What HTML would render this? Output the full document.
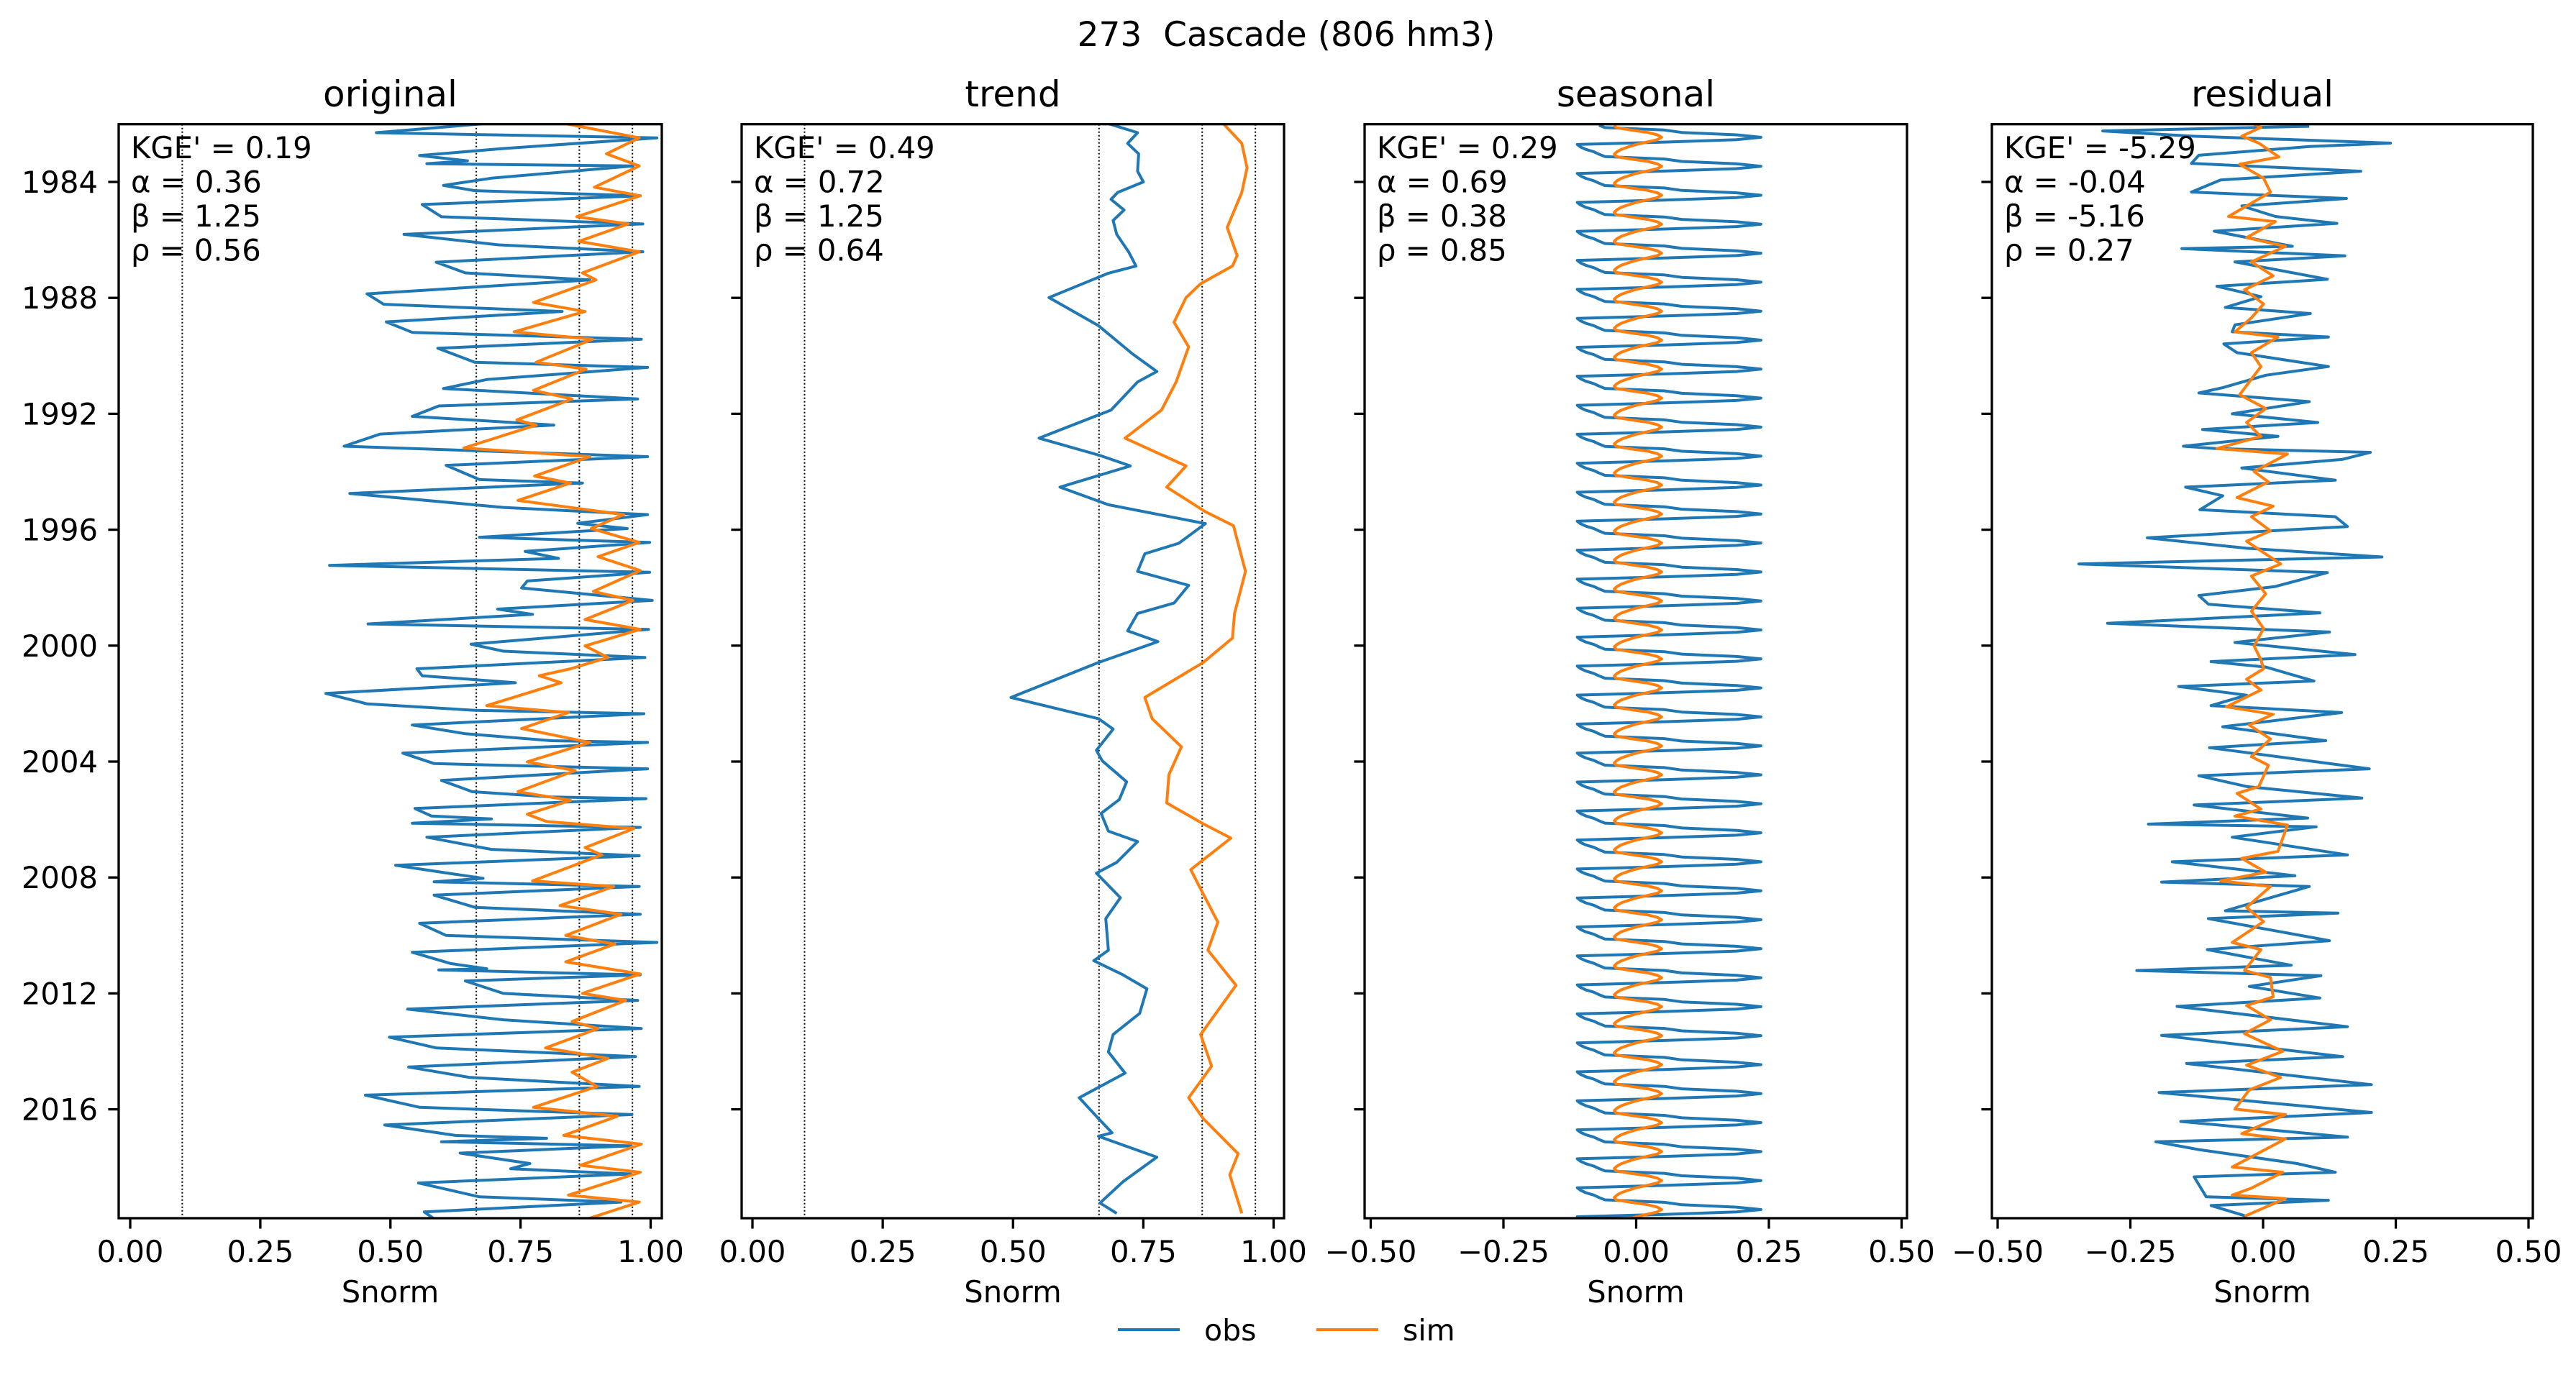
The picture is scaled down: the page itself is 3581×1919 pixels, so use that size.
<!DOCTYPE html>
<html><head><meta charset="utf-8"><title>273 Cascade</title>
<style>
html,body{margin:0;padding:0;background:#fff;}
svg{display:block;font-family:"DejaVu Sans","Liberation Sans",sans-serif;}
</style></head>
<body>
<svg id="fig" width="3581" height="1919" viewBox="0 0 3581 1919" xmlns="http://www.w3.org/2000/svg">
<rect width="3581" height="1919" fill="#fff"/>
<text x="1788" y="64" font-size="47" text-anchor="middle" xml:space="preserve" style="white-space:pre">273  Cascade (806 hm3)</text>
<g id="legend">
<line x1="1554" y1="1849" x2="1640" y2="1849" stroke="#1f77b4" stroke-width="4"/>
<text x="1674" y="1864" font-size="41">obs</text>
<line x1="1830" y1="1849" x2="1916" y2="1849" stroke="#ff7f0e" stroke-width="4"/>
<text x="1950" y="1864" font-size="41">sim</text>
</g>
</svg>
<script>
// ---------- data ----------
const yearTicks = [1984, 1988, 1992, 1996, 2000, 2004, 2008, 2012, 2016];
const panelTitles = ["original", "trend", "seasonal", "residual"];
const statsOriginal = ["KGE' = 0.19", "α = 0.36", "β = 1.25", "ρ = 0.56"];
const statsTrend = ["KGE' = 0.49", "α = 0.72", "β = 1.25", "ρ = 0.64"];
const statsSeasonal = ["KGE' = 0.29", "α = 0.69", "β = 0.38", "ρ = 0.85"];
const statsResidual = ["KGE' = -5.29", "α = -0.04", "β = -5.16", "ρ = 0.27"];
const ticksPos = [0, 0.25, 0.5, 0.75, 1.0];
const ticksPosLabels = ["0.00", "0.25", "0.50", "0.75", "1.00"];
const ticksSym = [-0.5, -0.25, 0, 0.25, 0.5];
const ticksSymLabels = ["\u22120.50", "\u22120.25", "0.00", "0.25", "0.50"];
const refLines = [0.10, 0.665, 0.863, 0.965];

const origObsYear = [1981.96,1982.30,1982.48,1982.85,1983.09,1983.27,1983.37,1983.45,1983.87,1984.12,1984.30,1984.48,1984.78,1985.20,1985.45,1985.81,1986.17,1986.41,1986.77,1987.14,1987.38,1987.86,1988.22,1988.47,1988.83,1989.19,1989.43,1989.74,1990.22,1990.40,1990.82,1991.13,1991.49,1991.73,1992.09,1992.39,1992.70,1993.12,1993.48,1993.78,1994.27,1994.39,1994.75,1995.23,1995.48,1995.78,1995.96,1996.26,1996.44,1996.75,1996.99,1997.23,1997.47,1997.77,1998.01,1998.44,1998.74,1998.92,1999.25,1999.44,1999.95,2000.19,2000.41,2000.80,2001.04,2001.28,2001.65,2002.01,2002.23,2002.35,2002.74,2003.04,2003.28,2003.34,2003.71,2004.07,2004.25,2004.65,2005.04,2005.22,2005.28,2005.62,2005.88,2005.98,2006.13,2006.27,2006.61,2007.03,2007.25,2007.58,2007.82,2008.03,2008.15,2008.31,2008.61,2009.03,2009.27,2009.58,2010.00,2010.24,2010.58,2010.97,2011.15,2011.19,2011.36,2011.57,2012.00,2012.24,2012.54,2012.91,2013.21,2013.51,2013.88,2014.18,2014.54,2014.90,2015.21,2015.51,2015.93,2016.18,2016.54,2016.90,2017.00,2017.12,2017.26,2017.51,2017.87,2018.05,2018.23,2018.54,2019.02,2019.20,2019.54,2019.78];
const origObsVal = [0.70,0.473,1.012,0.713,0.556,0.648,0.570,0.966,0.694,0.602,0.662,0.980,0.561,0.598,0.985,0.526,0.708,0.985,0.588,0.644,0.883,0.455,0.487,0.830,0.492,0.542,0.982,0.591,0.662,0.994,0.685,0.602,0.975,0.593,0.542,0.814,0.480,0.411,0.994,0.607,0.671,0.869,0.422,0.717,0.994,0.860,0.955,0.671,0.998,0.759,0.823,0.383,0.998,0.763,0.752,1.003,0.706,0.773,0.457,0.996,0.655,0.717,0.989,0.551,0.561,0.740,0.376,0.455,0.662,0.987,0.542,0.644,0.809,0.994,0.524,0.584,0.994,0.598,0.657,0.809,0.991,0.547,0.579,0.694,0.542,0.980,0.570,0.694,0.978,0.510,0.598,0.678,0.584,0.978,0.584,0.662,0.980,0.556,0.607,1.012,0.542,0.616,0.685,0.593,0.980,0.644,0.717,0.975,0.533,0.717,0.982,0.498,0.588,0.971,0.535,0.653,0.978,0.452,0.556,0.964,0.489,0.625,0.800,0.598,0.962,0.634,0.768,0.731,0.962,0.554,0.671,0.943,0.565,0.584];
const origSimYear = [1981.96,1982.48,1983.03,1983.45,1984.18,1984.48,1985.20,1985.45,1986.05,1986.41,1987.14,1987.38,1988.16,1988.47,1989.17,1989.43,1990.22,1990.46,1991.19,1991.49,1992.21,1992.39,1993.18,1993.48,1994.15,1994.39,1994.99,1995.48,1995.96,1996.44,1996.93,1997.41,1998.13,1998.44,1999.10,1999.44,2000.01,2000.41,2000.80,2001.04,2001.28,2002.07,2002.31,2002.86,2003.34,2004.01,2004.31,2005.04,2005.34,2005.82,2006.07,2006.31,2006.97,2007.22,2008.12,2008.31,2008.97,2009.27,2010.00,2010.30,2010.91,2011.33,2012.00,2012.24,2012.97,2013.21,2013.88,2014.24,2014.72,2015.21,2015.93,2016.24,2016.90,2017.20,2017.93,2018.17,2018.96,2019.20,2019.78];
const origSimVal = [0.828,0.978,0.915,0.978,0.892,0.980,0.858,0.957,0.862,0.978,0.869,0.895,0.775,0.874,0.738,0.888,0.780,0.876,0.775,0.849,0.743,0.780,0.641,0.883,0.777,0.846,0.745,0.948,0.886,0.978,0.899,0.980,0.890,0.966,0.874,0.980,0.874,0.918,0.846,0.786,0.828,0.685,0.842,0.752,0.883,0.763,0.855,0.745,0.846,0.763,0.800,0.968,0.874,0.906,0.773,0.929,0.826,0.943,0.837,0.931,0.837,0.980,0.869,0.952,0.849,0.899,0.798,0.918,0.849,0.897,0.775,0.936,0.833,0.982,0.865,0.980,0.842,0.978,0.879];

const trendObsYear = [1981.96,1982.30,1982.67,1983.03,1983.63,1984.00,1984.36,1984.60,1984.97,1985.33,1985.81,1986.42,1986.90,1987.15,1987.99,1988.96,1989.93,1990.54,1990.90,1991.87,1992.84,1993.44,1993.80,1994.53,1995.14,1995.79,1996.47,1996.83,1997.44,1997.92,1998.53,1998.89,1999.49,1999.86,2000.58,2001.79,2002.52,2002.88,2003.61,2003.97,2004.70,2005.31,2005.79,2006.40,2006.76,2007.48,2007.85,2008.70,2009.42,2010.51,2010.87,2011.36,2011.84,2012.69,2013.42,2014.02,2014.75,2015.60,2016.32,2016.81,2016.93,2017.65,2018.50,2019.23,2019.59];
const trendObsVal = [0.678,0.739,0.720,0.741,0.739,0.750,0.701,0.688,0.713,0.692,0.699,0.722,0.736,0.683,0.569,0.664,0.729,0.776,0.739,0.688,0.550,0.667,0.725,0.590,0.683,0.869,0.818,0.753,0.739,0.837,0.809,0.739,0.720,0.778,0.664,0.496,0.664,0.692,0.660,0.671,0.718,0.704,0.669,0.683,0.739,0.699,0.660,0.706,0.678,0.683,0.655,0.711,0.757,0.743,0.692,0.683,0.715,0.627,0.664,0.690,0.664,0.776,0.711,0.667,0.699];
const trendSimYear = [1981.96,1982.67,1983.51,1984.36,1985.57,1986.54,1986.90,1987.51,1987.99,1988.84,1989.69,1990.90,1991.87,1992.84,1993.80,1994.53,1995.38,1995.86,1997.44,1998.89,1999.74,2000.58,2001.79,2002.52,2003.49,2004.46,2005.43,2006.15,2006.64,2007.73,2008.57,2009.54,2010.51,2011.72,2013.42,2014.51,2015.60,2016.32,2017.53,2018.26,2019.59];
const trendSimVal = [0.902,0.939,0.949,0.939,0.911,0.930,0.921,0.860,0.832,0.809,0.837,0.813,0.785,0.715,0.832,0.795,0.869,0.923,0.946,0.925,0.921,0.865,0.753,0.767,0.823,0.799,0.795,0.865,0.918,0.841,0.865,0.893,0.874,0.928,0.860,0.881,0.837,0.865,0.932,0.916,0.939];

// seasonal component: monthly values Jan..Dec (repeats every year by construction)
const seasonYears = [1982,1983,1984,1985,1986,1987,1988,1989,1990,1991,1992,1993,1994,1995,1996,1997,1998,1999,2000,2001,2002,2003,2004,2005,2006,2007,2008,2009,2010,2011,2012,2013,2014,2015,2016,2017,2018,2019];
const seasonObsMonthly = [-0.070,-0.059,0.053,0.086,0.189,0.235,0.189,0.053,-0.111,-0.105,-0.095,-0.080];
const seasonSimMonthly = [-0.041,-0.038,-0.010,0.022,0.040,0.048,0.040,0.020,0.000,-0.015,-0.028,-0.036];

const residObsYear = [1982.08,1982.24,1982.42,1982.66,1982.78,1983.08,1983.36,1983.63,1983.93,1984.35,1984.57,1984.83,1985.19,1985.43,1985.70,1986.22,1986.30,1986.55,1986.76,1987.36,1987.60,1987.96,1988.33,1988.54,1988.93,1989.17,1989.35,1989.59,1989.89,1990.37,1990.67,1991.10,1991.28,1991.58,1992.00,1992.30,1992.54,1992.78,1993.12,1993.20,1993.33,1993.57,1993.87,1994.29,1994.53,1994.83,1995.31,1995.55,1995.89,1996.28,1996.64,1996.94,1997.18,1997.48,1997.96,1998.27,1998.57,1998.87,1999.23,1999.53,1999.89,2000.31,2000.55,2000.74,2001.22,2001.41,2001.71,2002.07,2002.31,2002.80,2003.28,2003.52,2004.25,2004.49,2004.86,2005.26,2005.50,2005.95,2006.16,2006.25,2006.61,2007.22,2007.46,2007.94,2008.16,2008.31,2009.15,2009.23,2009.42,2010.18,2010.49,2011.03,2011.21,2011.39,2011.76,2012.16,2012.45,2013.15,2013.45,2014.18,2014.42,2015.15,2015.42,2016.11,2016.42,2016.96,2017.12,2017.39,2017.87,2018.17,2018.33,2019.02,2019.14,2019.32,2019.69];
const residObsVal = [0.087,-0.302,-0.135,0.240,0.087,-0.121,-0.135,0.184,-0.080,-0.135,0.157,-0.040,0.023,0.139,-0.092,0.055,-0.153,0.154,-0.053,0.121,-0.087,-0.004,-0.071,0.089,-0.053,-0.058,0.123,-0.074,-0.049,0.123,0.005,-0.076,-0.121,0.087,-0.058,0.103,-0.114,0.028,-0.150,-0.089,0.202,0.150,-0.040,0.136,-0.146,-0.076,-0.119,0.136,0.159,-0.218,-0.031,0.224,-0.347,0.121,0.023,-0.121,-0.103,0.107,-0.293,0.125,-0.053,0.173,-0.098,0.005,0.096,-0.159,-0.031,-0.098,0.148,-0.076,0.118,-0.101,0.200,-0.121,-0.031,0.186,-0.130,0.084,-0.216,0.100,-0.058,0.159,-0.171,0.060,-0.191,0.087,-0.071,0.141,-0.103,0.125,-0.105,0.053,-0.238,0.109,-0.026,0.107,-0.162,0.159,-0.191,0.150,-0.144,0.204,-0.196,0.204,-0.155,0.159,-0.202,-0.121,0.064,0.136,-0.130,-0.107,0.123,-0.098,-0.031];
const residSimYear = [1981.96,1982.12,1982.42,1982.66,1983.14,1983.39,1983.87,1984.35,1984.83,1985.19,1985.37,1985.92,1986.22,1986.76,1987.24,1987.72,1988.21,1988.69,1989.17,1989.35,1989.89,1990.37,1991.34,1991.82,1992.30,1992.78,1993.20,1993.39,1993.99,1994.35,1994.89,1995.19,1995.55,1996.04,1996.40,1997.18,1997.60,1998.21,1998.81,1999.41,2000.01,2000.49,2000.80,2001.16,2001.53,2002.11,2002.37,2002.74,2003.22,2003.83,2004.13,2004.86,2005.10,2005.64,2005.88,2006.19,2007.10,2007.34,2007.82,2008.12,2008.31,2009.03,2009.52,2010.24,2010.49,2011.21,2011.45,2012.12,2012.42,2012.91,2013.39,2014.00,2014.48,2014.90,2015.33,2015.99,2016.18,2016.84,2017.02,2017.99,2018.17,2018.72,2018.96,2019.08,2019.69];
const residSimVal = [-0.022,-0.004,-0.040,-0.008,0.030,-0.044,0.001,0.014,-0.031,-0.065,0.023,-0.031,0.042,-0.022,0.019,-0.035,0.001,-0.022,-0.053,0.028,-0.022,-0.004,-0.044,0.005,-0.031,-0.004,-0.087,0.046,-0.017,0.010,-0.049,0.019,-0.022,0.014,-0.031,0.033,-0.022,0.005,-0.022,0.001,-0.017,-0.004,0.001,-0.031,-0.004,-0.069,0.019,-0.026,0.014,-0.022,0.010,-0.008,-0.049,-0.004,-0.053,0.046,0.028,-0.040,0.005,-0.080,0.014,-0.031,0.001,-0.058,-0.004,-0.035,0.014,0.019,-0.031,0.014,-0.035,0.037,-0.031,0.033,-0.026,-0.053,0.042,-0.040,0.042,-0.058,0.037,-0.022,-0.058,0.042,-0.035];

// ---------- layout ----------
const NS = "http://www.w3.org/2000/svg";
const svg = document.getElementById("fig");
const TOP = 172.7, BOTTOM = 1694;
function yScale(yr){ return 253 + (yr - 1984) * 40.3; }
const panels = [
  {left:165, width:755, x0:181, unit:723.5, ticks:ticksPos, labels:ticksPosLabels, stats:statsOriginal, ref:true},
  {left:1031, width:754, x0:1046, unit:724.5, ticks:ticksPos, labels:ticksPosLabels, stats:statsTrend, ref:true},
  {left:1897, width:754, x0:2274.5, unit:738, ticks:ticksSym, labels:ticksSymLabels, stats:statsSeasonal, ref:false},
  {left:2769, width:752, x0:3146, unit:738, ticks:ticksSym, labels:ticksSymLabels, stats:statsResidual, ref:false}
];
function mk(tag, attrs, parent){
  const e = document.createElementNS(NS, tag);
  for (const k in attrs) e.setAttribute(k, attrs[k]);
  (parent || svg).appendChild(e);
  return e;
}
function series(p, years, vals, color, g, name){
  let d = "";
  for (let i = 0; i < years.length; i++){
    const x = p.x0 + vals[i] * p.unit, y = yScale(years[i]);
    d += (i ? "L" : "M") + x.toFixed(1) + "," + y.toFixed(1);
  }
  const path = mk("path", {d:d, fill:"none", stroke:color, "stroke-width":4, "stroke-linejoin":"round"}, g);
  
  
}

// seasonal expansion (monthly points)
const seasonYearPts = [], seasonObsPts = [], seasonSimPts = [];
seasonYears.forEach(function(yr){
  for (let m = 0; m < 12; m++){
    const t = yr + (m + 0.5) / 12;
    if (t > 2019.8) continue;
    seasonYearPts.push(t); seasonObsPts.push(seasonObsMonthly[m]); seasonSimPts.push(seasonSimMonthly[m]);
  }
});

const seriesByPanel = [
  [origObsYear, origObsVal, origSimYear, origSimVal],
  [trendObsYear, trendObsVal, trendSimYear, trendSimVal],
  [seasonYearPts, seasonObsPts, seasonYearPts, seasonSimPts],
  [residObsYear, residObsVal, residSimYear, residSimVal]
];

panels.forEach(function(p, idx){
  const g = mk("g", {});
  
  
  const clipId = "clip" + idx;
  const cp = mk("clipPath", {id:clipId}, g);
  mk("rect", {x:p.left, y:TOP, width:p.width, height:BOTTOM - TOP}, cp);
  const plot = mk("g", {"clip-path":"url(#" + clipId + ")"}, g);
  if (p.ref){
    refLines.forEach(function(v){
      const x = p.x0 + v * p.unit;
      const l = mk("line", {x1:x, y1:TOP, x2:x, y2:BOTTOM, stroke:"#000", "stroke-width":2, "stroke-dasharray":"2,3"}, plot);
      
      
    });
  }
  const s = seriesByPanel[idx];
  series(p, s[0], s[1], "#1f77b4", plot, "obs-line-" + panelTitles[idx]);
  series(p, s[2], s[3], "#ff7f0e", plot, "sim-line-" + panelTitles[idx]);
  const frame = mk("rect", {x:p.left, y:TOP, width:p.width, height:BOTTOM - TOP, fill:"none", stroke:"#000", "stroke-width":3.3}, g);
  
  
  p.ticks.forEach(function(v, i){
    const x = p.x0 + v * p.unit;
    mk("line", {x1:x, y1:BOTTOM, x2:x, y2:BOTTOM + 14.6, stroke:"#000", "stroke-width":3.3}, g);
    const t = mk("text", {x:x, y:1755, "font-size":41.7, "text-anchor":"middle"}, g);
    t.textContent = p.labels[i];
    
    
  });
  yearTicks.forEach(function(yr){
    const y = yScale(yr);
    mk("line", {x1:p.left - 14.6, y1:y, x2:p.left, y2:y, stroke:"#000", "stroke-width":3.3}, g);
    if (idx === 0){
      const t = mk("text", {x:p.left - 29, y:y + 15, "font-size":41.7, "text-anchor":"end"}, g);
      t.textContent = String(yr);
      
      
    }
  });
  const xl = mk("text", {x:p.left + p.width / 2, y:1811, "font-size":41.7, "text-anchor":"middle"}, g);
  xl.textContent = "Snorm";
  
  
  const ti = mk("text", {x:p.left + p.width / 2, y:148, "font-size":50, "text-anchor":"middle"}, g);
  ti.textContent = panelTitles[idx];
  
  
  p.stats.forEach(function(line, i){
    const t = mk("text", {x:p.left + 17, y:220 + i * 47.5, "font-size":41.7}, g);
    t.textContent = line;
    
    
  });
});
svg.appendChild(document.getElementById("legend"));
</script>
</body></html>
